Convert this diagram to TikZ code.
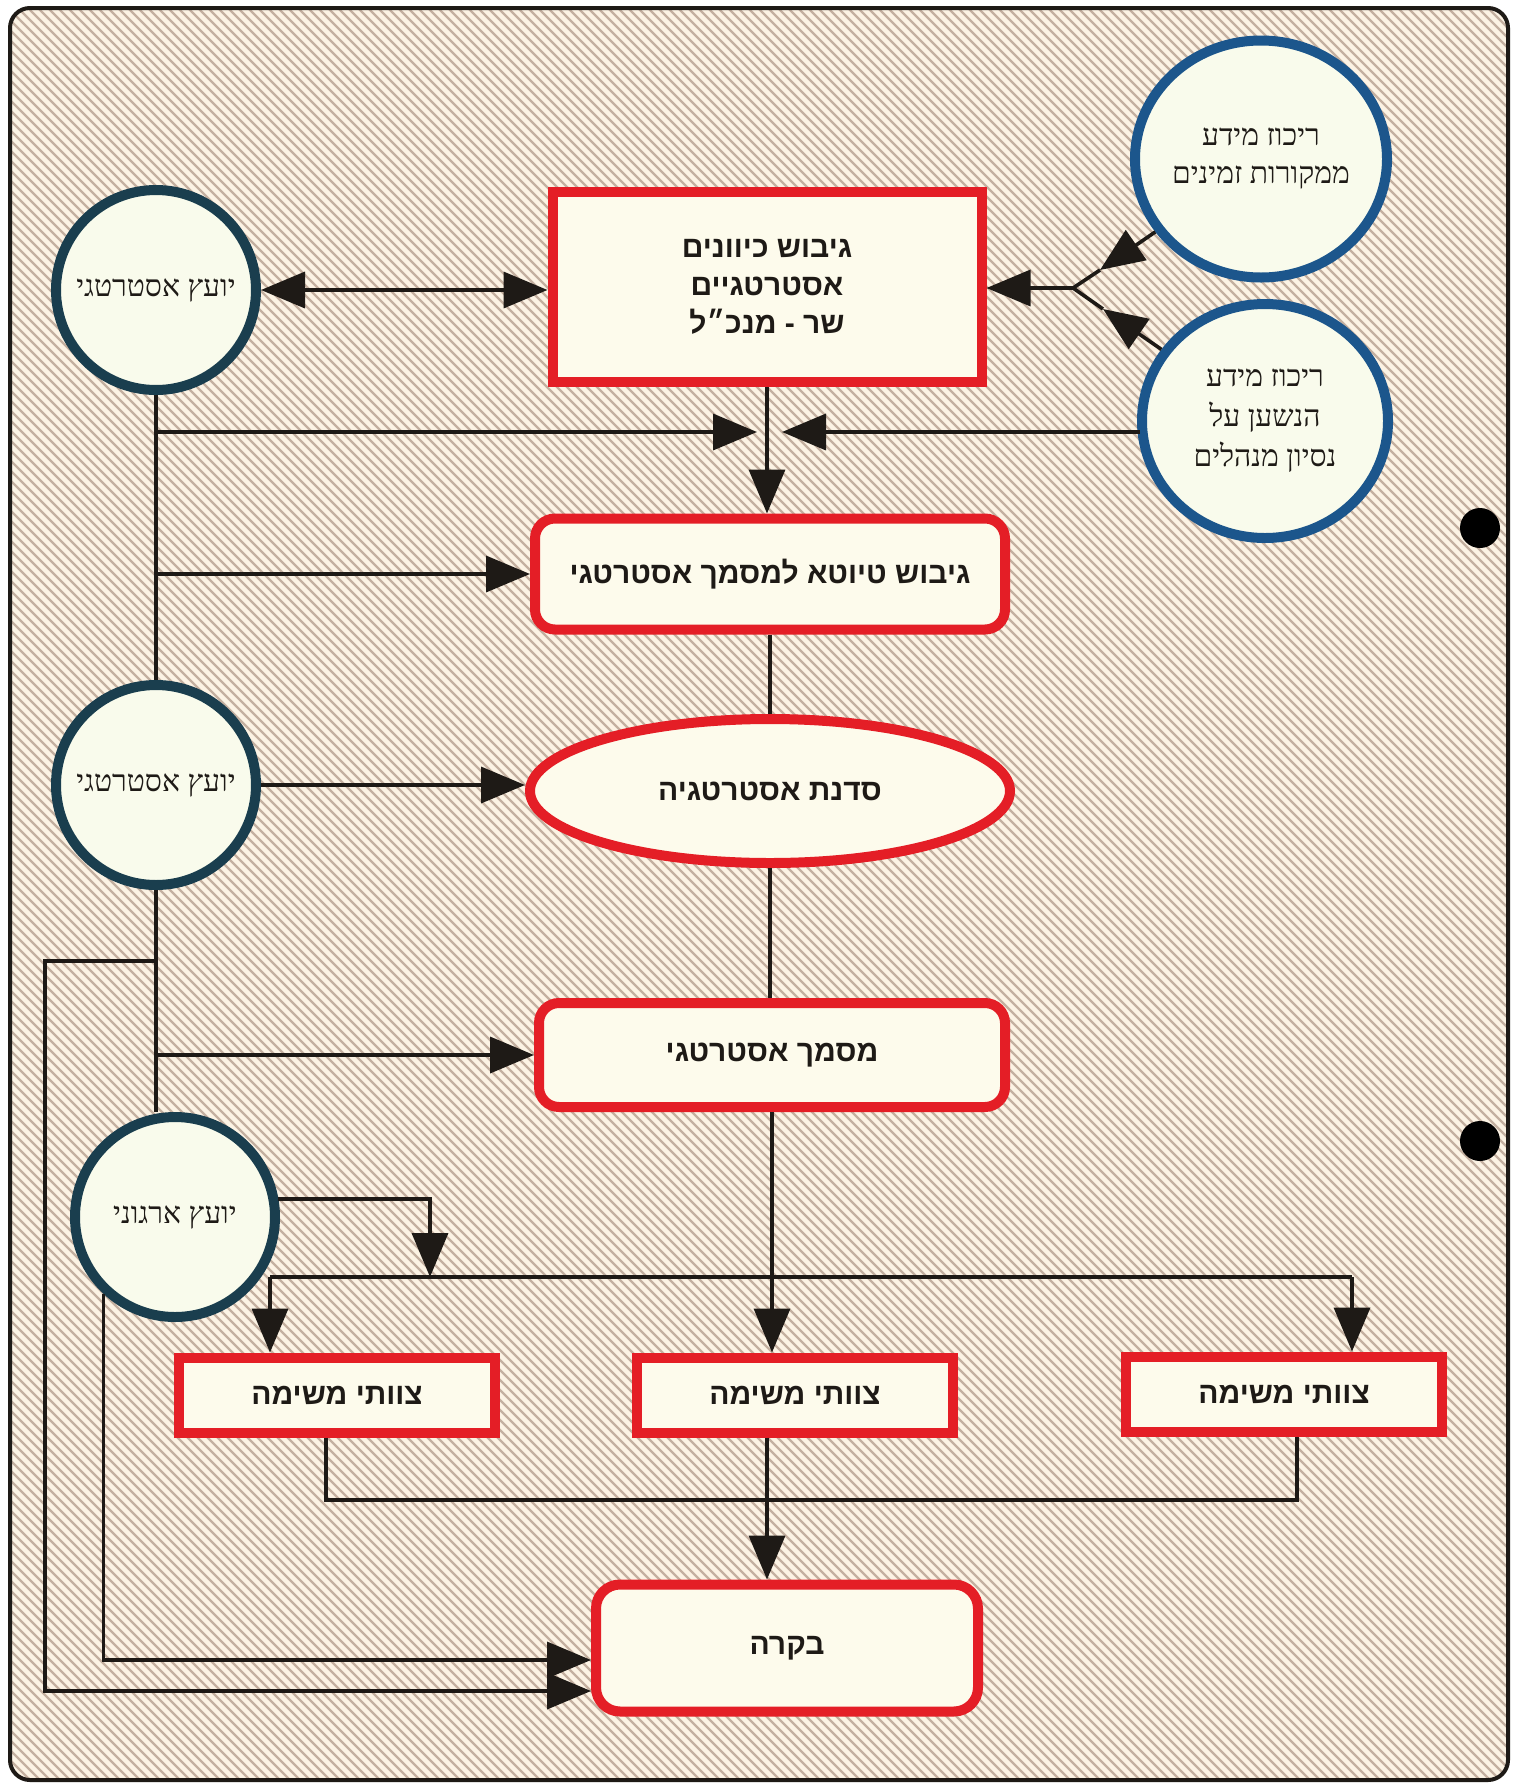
\documentclass[tikz,border=0pt]{standalone}
\usepackage{fontspec}
\usetikzlibrary{arrows.meta,shapes.geometric,calc}
\TeXXeTstate=1
\newfontfamily\hebsans[Script=Hebrew]{Liberation Sans}
\newfontfamily\hebserif[Script=Hebrew]{Liberation Serif}
\newcommand\hb[1]{\beginR #1\endR}
\definecolor{bgcream}{RGB}{252,243,228}
\definecolor{hatchc}{RGB}{196,176,160}
\definecolor{boxred}{RGB}{228,30,38}
\definecolor{boxfill}{RGB}{253,251,236}
\definecolor{circfill}{RGB}{249,251,236}
\definecolor{darkteal}{RGB}{26,62,78}
\definecolor{midblue}{RGB}{28,86,140}
\definecolor{ink}{RGB}{30,26,22}
\tikzset{
  conn/.style={draw=ink, line width=1.8pt},
  arr/.style={conn, -{Triangle[length=22pt,width=18pt]}},
  darr/.style={conn, {Triangle[length=22pt,width=18pt]}-{Triangle[length=22pt,width=18pt]}},
  circnode/.style={circle, draw=#1, line width=5pt, fill=circfill, inner sep=0pt,
    align=center, text=ink, font=\hebserif\fontsize{15}{19}\selectfont},
  ellnode/.style={ellipse, draw=#1, line width=5pt, fill=circfill, inner sep=0pt,
    align=center, text=ink, font=\hebserif\fontsize{15}{19}\selectfont},
  redbox/.style={rectangle, draw=boxred, line width=5pt, fill=boxfill, inner sep=0pt,
    align=center, text=ink, font=\hebsans\bfseries\fontsize{15}{18.5}\selectfont},
  redround/.style={redbox, rounded corners=10pt},
  redell/.style={redbox, ellipse}
}
\begin{document}
\begin{tikzpicture}[x=0.5pt,y=-0.5pt]
\useasboundingbox (0,0) rectangle (1518,1783);
\fill[white] (0,0) rectangle (1518,1783);
% background panel with hatching
\fill[bgcream, rounded corners=10pt] (10,8) rectangle (1508,1780);
\begin{scope}
  \clip[rounded corners=10pt] (10,8) rectangle (1508,1780);
  \foreach \i in {-1800,-1790,...,1520} {
    \draw[hatchc, line width=1.2pt] (\i,0) -- ({\i+1800},1800);
  }
\end{scope}
\draw[ink, line width=2pt, rounded corners=10pt] (10,8) rectangle (1508,1780);
\fill[black] (1480,528) circle[radius=20];
\fill[black] (1480,1141) circle[radius=20];

% nodes
\node[circnode=darkteal, minimum size=100pt] (A) at (156,290) {\hb{יועץ אסטרטגי}};
\node[ellnode=midblue, minimum width=126pt, minimum height=118.5pt] (B) at (1261,159)
  {\hb{ריכוז מידע}\\\hb{ממקורות זמינים}};
\node[ellnode=midblue, minimum width=123pt, minimum height=117pt, font=\hebserif\fontsize{15}{20}\selectfont] (C) at (1265,421)
  {\hb{ריכוז מידע}\\\hb{הנשען על}\\\hb{נסיון מנהלים}};
\node[redbox, minimum width=214.5pt, minimum height=95pt, font=\hebsans\bfseries\fontsize{15}{19}\selectfont] (box1) at (767,287)
  {\hb{גיבוש כיוונים}\\\hb{אסטרטגיים}\\\hb{שר - מנכ״ל}};
\node[redround, minimum width=235pt, minimum height=55.5pt] (box2) at (770,574)
  {\hb{גיבוש טיוטא למסמך אסטרטגי}};
\node[redell, minimum width=240pt, minimum height=72pt] (S) at (770,791)
  {\hb{סדנת אסטרטגיה}};
\node[circnode=darkteal, minimum size=100pt] (D) at (156,785) {\hb{יועץ אסטרטגי}};
\node[redround, minimum width=233pt, minimum height=52pt] (box3) at (772,1055)
  {\hb{מסמך אסטרטגי}};
\node[circnode=darkteal, minimum size=100pt] (E) at (175,1217) {\hb{יועץ ארגוני}};
\node[redbox, minimum width=158pt, minimum height=37.5pt] (T1) at (337,1395) {\hb{צוותי משימה}};
\node[redbox, minimum width=158pt, minimum height=37.5pt] (T2) at (795,1395) {\hb{צוותי משימה}};
\node[redbox, minimum width=158pt, minimum height=37.5pt] (T3) at (1284,1394) {\hb{צוותי משימה}};
\node[redround, rounded corners=12pt, minimum width=191pt, minimum height=63.5pt] (K) at (787,1648)
  {\hb{בקרה}};

% helper coordinates
\coordinate (J) at (1073,288);
\coordinate (Bm) at (1100,270);
\coordinate (Cm) at (1103,309);
\coordinate (h1) at (156,432);
\coordinate (t1) at (757,432);
\coordinate (t2) at (782,432);
\coordinate (h2) at (156,574);
\coordinate (h3) at (156,961);
\coordinate (h3l) at (45,961);
\coordinate (h3b) at (45,1691);
\coordinate (h4) at (156,1055);
\coordinate (d1) at (430,1277);
\coordinate (dl) at (270,1277);
\coordinate (dr) at (1352,1277);
\coordinate (bl) at (326,1500);
\coordinate (br) at (1297,1500);
\coordinate (m2) at (767,1500);
\coordinate (y1) at (0,1660);
\coordinate (cx) at (1140,432);

% connectors
\draw[darr] (A.east) -- (A.east -| box1.west);
\draw[arr] (B) -- (Bm);
\draw[conn] (Bm) -- (J);
\draw[arr] (C) -- (Cm);
\draw[conn] (Cm) -- (J);
\draw[arr] (J) -- (J -| box1.east);
\draw[conn] (A.south) -- (D.north);
\draw[arr] (h1) -- (t1);
\draw[arr] (cx) -- (t2);
\draw[arr] (box1.south) -- (box1.south |- box2.north);
\draw[arr] (h2) -- (box2.west);
\draw[conn] (box2.south) -- (box2.south |- S.north);
\draw[arr] (D.east) -- (D.east -| S.west);
\draw[conn] (S.south) -- (S.south |- box3.north);
\draw[conn] (D.south) -- (D.south |- E.north);
\draw[arr] (h3) -- (h3l) -- (h3b) -- (K.west |- h3b);
\draw[arr] (h4) -- (box3.west);
\draw[arr] (E.10) -| (d1);
\draw[conn] (dl) -- (dr);
\draw[arr] (dl) -- (dl |- T1.north);
\draw[arr] (dr) -- (dr |- T3.north);
\draw[arr] (box3.south) -- (box3.south |- T2.north);
\draw[conn] (bl |- T1.south) -- (bl) -- (br) -- (br |- T3.south);
\draw[arr] (m2 |- T2.south) -- (m2 |- K.north);
\draw[arr] (E.-133) |- (K.west |- y1);
\end{tikzpicture}
\end{document}
